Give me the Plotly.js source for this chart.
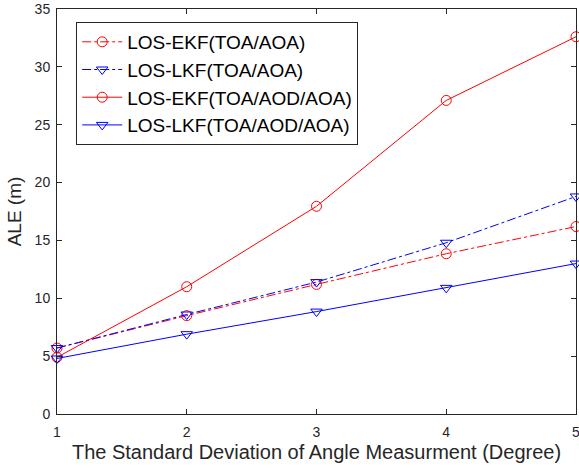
<!DOCTYPE html>
<html><head><meta charset="utf-8">
<script src="https://cdn.plot.ly/plotly-3.0.1.min.js"></script>
<style>body{margin:0;padding:0;background:#fff}#plot{width:579px;height:473px}</style>
</head><body><div id="plot"></div>
<script>
const xVals = [1, 2, 3, 4, 5];
const ekfToaAoa = [5.7, 8.5, 11.2, 13.85, 16.2];
const lkfToaAoa = [5.7, 8.6, 11.4, 14.8, 18.8];
const ekfToaAodAoa = [4.9, 11.0, 17.95, 27.1, 32.6];
const lkfToaAodAoa = [4.8, 6.9, 8.85, 10.9, 13.0];
const names = ['LOS-EKF(TOA/AOA)', 'LOS-LKF(TOA/AOA)', 'LOS-EKF(TOA/AOD/AOA)', 'LOS-LKF(TOA/AOD/AOA)'];
const xTicks = [1, 2, 3, 4, 5];
const yTicks = [0, 5, 10, 15, 20, 25, 30, 35];

function tr(y, name, color, dash, sym){
  return {x: xVals, y: y, name: name, type: 'scatter', mode: 'lines+markers', cliponaxis: false,
    line: {color: color, width: 1, dash: dash},
    marker: {symbol: sym, size: 10, color: color, line: {color: color, width: 1}}};
}
const data = [
  tr(ekfToaAoa, names[0], '#ff0000', 'dashdot', 'circle-open'),
  tr(lkfToaAoa, names[1], '#0000ff', 'dashdot', 'triangle-down-open'),
  tr(ekfToaAodAoa, names[2], '#ff0000', 'solid', 'circle-open'),
  tr(lkfToaAodAoa, names[3], '#0000ff', 'solid', 'triangle-down-open')
];
const FONT = 'Liberation Sans, Arial, sans-serif';
const axisCommon = {showgrid: false, zeroline: false, showline: true, mirror: 'ticks',
  linecolor: '#262626', linewidth: 1, ticks: 'inside', ticklen: 5, tickcolor: '#262626',
  ticklabeloverflow: 'allow',
  tickfont: {family: FONT, size: 14, color: '#262626'}};
const layout = {
  width: 579, height: 473,
  margin: {l: 57, r: 3, t: 9, b: 59},
  paper_bgcolor: '#fff', plot_bgcolor: '#fff',
  font: {family: FONT, color: '#262626'},
  xaxis: Object.assign({}, axisCommon, {range: [1, 5], tickvals: xTicks, ticklabelstandoff: 5,
    title: {text: 'The Standard Deviation of Angle Measurment (Degree)', font: {size: 20, color: '#262626'}, standoff: 6}}),
  yaxis: Object.assign({}, axisCommon, {range: [0, 35], tickvals: yTicks, ticklabelstandoff: 3,
    title: {text: 'ALE (m)', font: {size: 19, color: '#262626'}, standoff: 7}}),
  showlegend: true,
  legend: {x: 0.037, y: 0.968, xanchor: 'left', yanchor: 'top', bgcolor: '#fff',
    bordercolor: '#262626', borderwidth: 1, font: {family: FONT, size: 19, color: '#000'},
    tracegroupgap: 0, itemwidth: 40}
};
Plotly.newPlot('plot', data, layout, {displayModeBar: false, staticPlot: true});
</script></body></html>
